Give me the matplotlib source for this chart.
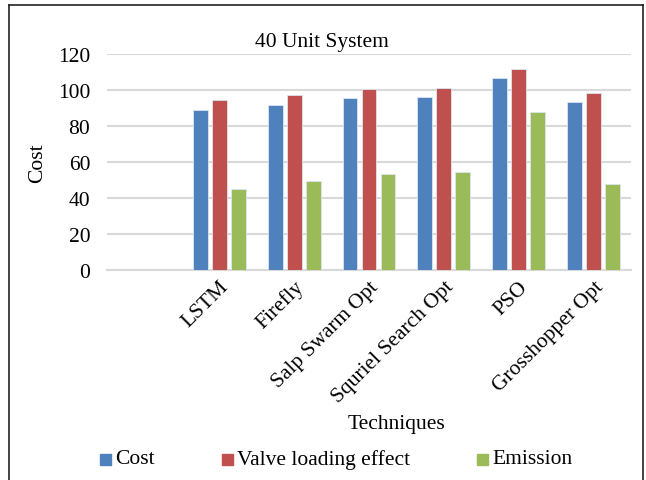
import matplotlib
matplotlib.use("Agg")
import matplotlib.pyplot as plt
import matplotlib.lines as mlines
import numpy as np

# Techniques compared on the 40 unit system (first slot left empty)
categories = ["", "LSTM", "Firefly", "Salp Swarm Opt", "Squriel Search Opt", "PSO", "Grosshopper Opt"]
cost = [np.nan, 88.9, 91.8, 95.4, 96.3, 106.7, 93.1]
valve_loading = [np.nan, 94.3, 97.2, 100.6, 101.3, 111.7, 98.1]
emission = [np.nan, 44.8, 49.3, 53.3, 54.3, 87.8, 47.8]

series_names = ["Cost", "Valve loading effect", "Emission"]
colors = ["#4F81BD", "#C0504D", "#9BBB59"]
yticks = [0, 20, 40, 60, 80, 100, 120]

plt.rcParams["font.family"] = ["Liberation Serif", "DejaVu Serif"]
FS = 15.5

W, H = 646, 481
fig = plt.figure(figsize=(W / 100, H / 100), dpi=100)
ax = fig.add_axes([107 / W, 1 - 271 / H, (631 - 107) / W, (271 - 55) / H])

x = np.arange(len(categories))
width = 0.2
step = 0.254
for i, (vals, name, col) in enumerate(zip([cost, valve_loading, emission], series_names, colors)):
    ax.bar(x + (i - 1) * step, vals, width, color=col, edgecolor="#DCE6F2",
           linewidth=0.6, label=name, zorder=3)

ax.set_xlim(-0.5, len(categories) - 0.5)
ax.set_ylim(0, 120)
ax.set_yticks(yticks)
ax.set_yticklabels([str(v) for v in yticks], fontsize=FS)
ax.yaxis.grid(True, color="#D9D9D9", linewidth=1.5, zorder=0)
ax.set_axisbelow(True)
ax.tick_params(axis="y", length=0, pad=12)
ax.tick_params(axis="x", length=0, pad=5)
for side in ["left", "right", "top"]:
    ax.spines[side].set_visible(False)
ax.spines["bottom"].set_color("#D9D9D9")
ax.spines["bottom"].set_linewidth(1.5)

ax.set_xticks(x)
ax.set_xticklabels(categories, fontsize=FS, rotation=45, ha="right",
                   va="top", rotation_mode="anchor")

ax.set_ylabel("Cost", fontsize=FS)
ax.yaxis.set_label_coords(-0.114, 0.5)
fig.text(397 / W, 1 - 425 / H, "Techniques", fontsize=FS, ha="center", va="center")
fig.text(322 / W, 1 - 42 / H, "40 Unit System", fontsize=FS, ha="center", va="center")

# Legend entries spaced along the bottom
legend_x = [100, 222, 477]
for lx, name, col in zip(legend_x, series_names, colors):
    fig.patches.append(plt.Rectangle((lx / W, 1 - 466 / H), 11 / W, 11 / H,
                                     transform=fig.transFigure, color=col))
    fig.text((lx + 15) / W, 1 - 460 / H, name, fontsize=FS, ha="left", va="center")

# Outer frame
frame_kw = dict(color="#222222", linewidth=1.2, transform=fig.transFigure)
fig.lines.append(mlines.Line2D([9 / W, 9 / W], [0, 1 - 6 / H], **frame_kw))
fig.lines.append(mlines.Line2D([9 / W, 643 / W], [1 - 6 / H, 1 - 6 / H], **frame_kw))
fig.lines.append(mlines.Line2D([643 / W, 643 / W], [0, 1 - 6 / H], **frame_kw))

fig.savefig("out.png", dpi=100, facecolor="white")
